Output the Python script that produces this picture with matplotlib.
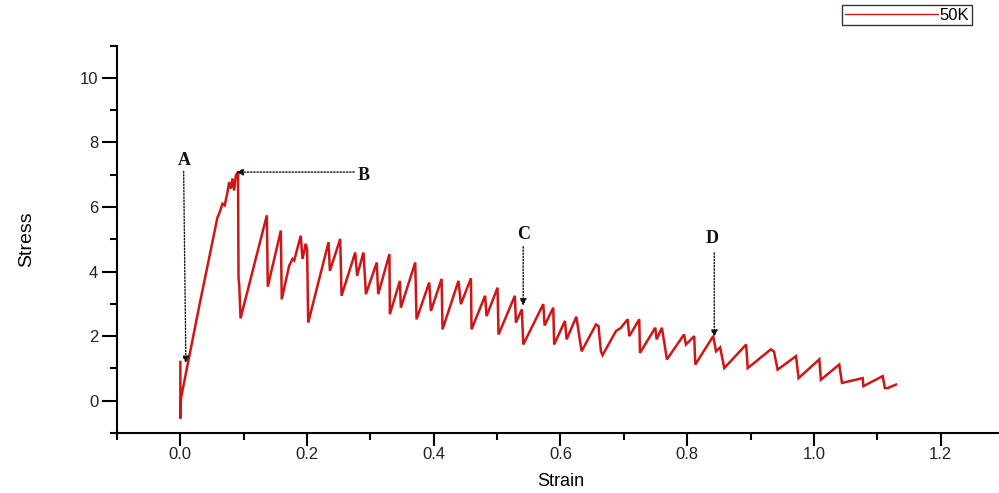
import matplotlib
matplotlib.use("Agg")
import matplotlib.pyplot as plt
from matplotlib import font_manager

# Stress-strain curve of the 50K sample (vertices of the sawtooth trace)
strain = [
    0.000, 0.000, 0.001, 0.030, 0.0586, 0.0613, 0.0665, 0.0700, 0.0744, 0.0770,
    0.0797, 0.0823, 0.0849, 0.0876, 0.0902, 0.0910, 0.0918, 0.0930, 0.0950,
    0.1365, 0.1380, 0.1586, 0.1600, 0.1717, 0.1770, 0.1797, 0.1900, 0.1928,
    0.1980, 0.2000, 0.2018, 0.2339, 0.2360, 0.2523, 0.2544, 0.2760, 0.2790,
    0.2890, 0.2929, 0.3100, 0.3123, 0.3300, 0.3307, 0.3465, 0.3480, 0.3707,
    0.3728, 0.3928, 0.3955, 0.4123, 0.4138, 0.4390, 0.4428, 0.4586, 0.4596,
    0.4810, 0.4833, 0.5006, 0.5022, 0.5280, 0.5296, 0.5390, 0.5412, 0.5728,
    0.5749, 0.5886, 0.5900, 0.6070, 0.6096, 0.6250, 0.6333, 0.6560, 0.6600,
    0.6638, 0.6664, 0.6876, 0.6950, 0.7060, 0.7086, 0.7243, 0.7254, 0.7496,
    0.7517, 0.7600, 0.7680, 0.7950, 0.7980, 0.8110, 0.8128, 0.8410, 0.8455,
    0.8520, 0.8585, 0.8930, 0.8955, 0.9320, 0.9370, 0.9427, 0.9717, 0.9758,
    1.0085, 1.0110, 1.0400, 1.0443, 1.0770, 1.0780, 1.1085, 1.1120, 1.1160,
    1.1296,
]
stress = [
    1.20, -0.55, 0.08, 2.95, 5.68, 5.79, 6.10, 6.05, 6.46, 6.77,
    6.57, 6.88, 6.51, 6.98, 7.05, 7.08, 3.80, 3.55, 2.55,
    5.74, 3.53, 5.27, 3.14, 4.18, 4.39, 4.34, 5.11, 4.39,
    4.86, 4.70, 2.42, 4.91, 4.02, 5.01, 3.25, 4.59, 3.87,
    4.59, 3.30, 4.28, 3.30, 4.54, 2.68, 3.71, 2.88, 4.28,
    2.52, 3.66, 2.78, 3.77, 2.21, 3.71, 2.99, 3.79, 2.21,
    3.25, 2.62, 3.50, 2.05, 3.25, 2.42, 2.83, 1.74, 2.99,
    2.33, 2.88, 1.74, 2.47, 1.90, 2.60, 1.53, 2.36, 2.31,
    1.53, 1.41, 2.16, 2.25, 2.52, 2.00, 2.52, 1.48, 2.26,
    1.90, 2.26, 1.28, 2.05, 1.74, 2.00, 1.12, 2.00, 1.53,
    1.65, 1.01, 1.74, 1.01, 1.59, 1.52, 0.96, 1.38, 0.70,
    1.28, 0.65, 1.12, 0.55, 0.70, 0.45, 0.76, 0.39, 0.39,
    0.50,
]

# Marked points: label, label position, arrow start, arrow tip
marks = ["A", "B", "C", "D"]
mark_text_xy = [(0.006, 7.45), (0.2886, 6.97), (0.5411, 5.15), (0.8396, 5.02)]
mark_from_xy = [(0.0052, 7.10), (0.2744, 7.08), (0.5411, 4.77), (0.8427, 4.58)]
mark_to_xy = [(0.0087, 1.16), (0.0881, 7.08), (0.5411, 2.94), (0.8427, 1.97)]

x_ticks = [0.0, 0.2, 0.4, 0.6, 0.8, 1.0, 1.2]
y_ticks = [0, 2, 4, 6, 8, 10]

available = {f.name for f in font_manager.fontManager.ttflist}
sans = "Liberation Sans" if "Liberation Sans" in available else "DejaVu Sans"
narrow = "Liberation Sans Narrow" if "Liberation Sans Narrow" in available else sans
serif = "Liberation Serif" if "Liberation Serif" in available else "DejaVu Serif"

plt.rcParams["font.family"] = [sans, "DejaVu Sans"]

fig = plt.figure(figsize=(9.99, 4.93), dpi=100)
ax = fig.add_axes([117 / 999, 60 / 493, 887 / 999, 387.5 / 493])

line, = ax.plot(strain, stress, color="#cf1515", lw=1.8, label="50K",
                solid_joinstyle="miter")

ax.set_xlim(-0.1, 1.3)
ax.set_ylim(-1, 11)

for side in ("top", "right"):
    ax.spines[side].set_visible(False)
for side in ("left", "bottom"):
    ax.spines[side].set_linewidth(1.5)

ax.set_xticks(x_ticks)
ax.set_xticklabels([f"{v:.1f}" for v in x_ticks], fontfamily=narrow, fontsize=12,
                   color="#222222")
ax.set_xticks([-0.1, 0.1, 0.3, 0.5, 0.7, 0.9, 1.1], minor=True)
ax.set_yticks(y_ticks)
ax.set_yticklabels([str(v) for v in y_ticks], fontsize=12, color="#222222")
ax.set_yticks([-1, 1, 3, 5, 7, 9, 11], minor=True)
ax.tick_params(axis="both", which="major", direction="out", length=10.5, width=1.5, pad=3)
ax.tick_params(axis="both", which="minor", direction="out", length=5, width=1.5)
ax.tick_params(axis="x", which="major", length=9, pad=1)

ax.set_xlabel("Strain", fontsize=13, labelpad=8)
ax.set_ylabel("Stress", fontsize=14, labelpad=32)

for lab, txy, fxy, exy in zip(marks, mark_text_xy, mark_from_xy, mark_to_xy):
    ax.annotate("", xy=exy, xytext=fxy,
                arrowprops=dict(arrowstyle="-|>", linestyle=(0, (1, 1.3)), lw=1.0,
                                color="#111111", mutation_scale=10,
                                shrinkA=0, shrinkB=0))
    ax.text(txy[0], txy[1], lab, fontfamily=serif, fontweight="bold", fontsize=13,
            ha="center", va="center", color="#111111")

leg = ax.legend(handles=[line], loc="upper right", bbox_to_anchor=(972 / 999, 1 - 5 / 493),
                bbox_transform=fig.transFigure, borderaxespad=0, fancybox=False,
                framealpha=1, edgecolor="#333333", handlelength=5.6, handletextpad=0.1,
                borderpad=0.15, fontsize=12)
leg.get_frame().set_linewidth(1.0)
leg.get_lines()[0].set_linewidth(1.0)

fig.savefig("out.png", dpi=100)
